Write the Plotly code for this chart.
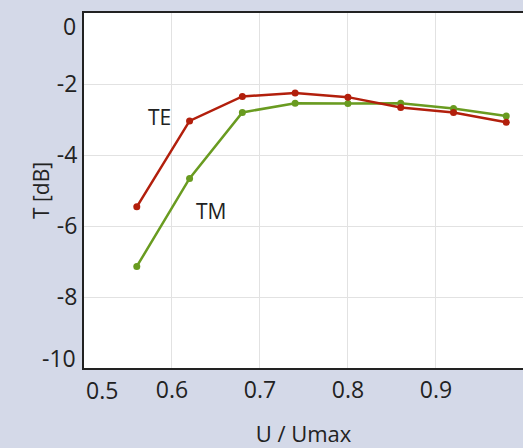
import plotly.graph_objects as go

u = [0.56, 0.62, 0.68, 0.74, 0.80, 0.86, 0.92, 0.98]
te = [-5.46, -3.04, -2.35, -2.25, -2.37, -2.66, -2.80, -3.08]
tm = [-7.14, -4.66, -2.80, -2.54, -2.55, -2.54, -2.69, -2.90]

x_ticks = [0.6, 0.7, 0.8, 0.9]
x_tick_text = ["0.6", "0.7", "0.8", "0.9"]
y_ticks = [-8, -6, -4, -2]
y_tick_text = ["-8", "-6", "-4", "-2"]

red = "#b21f0c"
green = "#699b20"
txt = "#222222"
tick_size = 23

fig = go.Figure()
fig.add_trace(go.Scatter(x=u, y=tm, mode="lines+markers", name="TM",
                         line=dict(color=green, width=2.5), marker=dict(size=7, color=green)))
fig.add_trace(go.Scatter(x=u, y=te, mode="lines+markers", name="TE",
                         line=dict(color=red, width=2.5), marker=dict(size=7, color=red)))

fig.add_annotation(x=0.586, y=-2.93, text="TE", showarrow=False, font=dict(size=21, color=txt))
fig.add_annotation(x=0.644, y=-5.58, text="TM", showarrow=False, font=dict(size=21, color=txt))

# edge tick labels, shifted inward as in the reference
fig.add_annotation(xref="paper", x=0, y=0, xanchor="right", yanchor="middle", xshift=-6, yshift=-13,
                   text="0", showarrow=False, font=dict(size=tick_size, color=txt))
fig.add_annotation(xref="paper", x=0, y=-10, xanchor="right", yanchor="middle", xshift=-6, yshift=10,
                   text="-10", showarrow=False, font=dict(size=tick_size, color=txt))
fig.add_annotation(x=0.5, yref="paper", y=0, xanchor="left", yanchor="middle", yshift=-22,
                   text="0.5", showarrow=False, font=dict(size=tick_size, color=txt))

fig.update_layout(
    width=523, height=448,
    margin=dict(l=84, r=0, t=13, b=80),
    paper_bgcolor="#d4d9e8",
    plot_bgcolor="white",
    showlegend=False,
    font=dict(family="Open Sans", size=21, color=txt),
    xaxis=dict(range=[0.5, 0.999], tickvals=x_ticks, ticktext=x_tick_text, showgrid=True, gridcolor="#e2e2e2",
               tickfont=dict(size=tick_size),
               showline=True, linecolor=txt, linewidth=2, mirror=True, zeroline=False,
               ticks="", title=dict(text="U / Umax", font=dict(size=22), standoff=26)),
    yaxis=dict(range=[-10, 0], tickvals=y_ticks, ticktext=y_tick_text, showgrid=True, gridcolor="#e2e2e2",
               tickfont=dict(size=tick_size),
               showline=True, linecolor=txt, linewidth=2, mirror=False, zeroline=False,
               ticks="", title=dict(text="T [dB]", font=dict(size=21), standoff=1)),
)

fig.write_html("out.html", config={"displayModeBar": False},
               post_script="document.body.style.margin='0px';")
